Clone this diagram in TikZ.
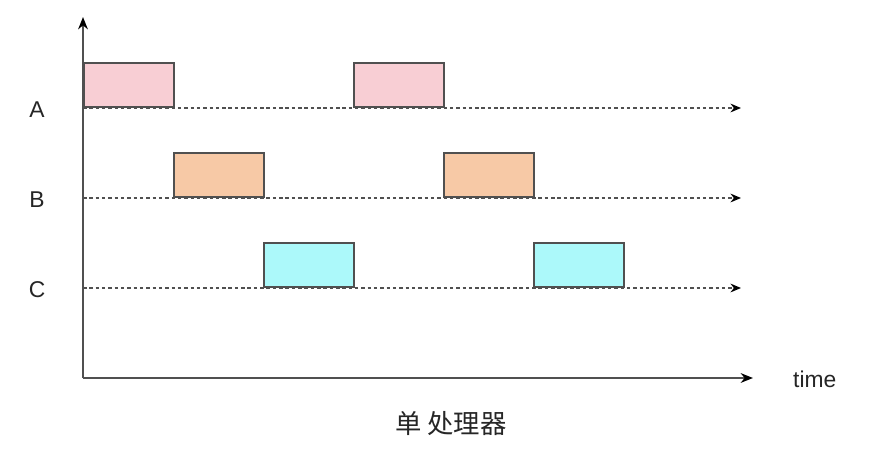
\documentclass[tikz,border=0pt]{standalone}
\usepackage{fontspec}
\setmainfont{Liberation Sans}
\newfontfamily\cjk{Noto Sans CJK SC}
\usetikzlibrary{arrows,arrows.meta,positioning}

\definecolor{slotA}{RGB}{248,206,212}
\definecolor{slotB}{RGB}{247,201,166}
\definecolor{slotC}{RGB}{172,249,250}
\definecolor{edgegray}{RGB}{80,80,80}

\tikzset{
	slot/.style={draw=edgegray,line width=1.1pt,minimum width=1.8cm,minimum height=0.88cm,inner sep=0pt,anchor=south west},
	lane/.style={-{Stealth[length=6pt,width=5pt,black]},dash pattern=on 2pt off 1.6pt,line width=0.75pt,draw=edgegray},
	axis/.style={-{Stealth[length=7pt,width=5.5pt,black]},line width=1.1pt,draw=edgegray},
	rowlabel/.style={font=\fontsize{13}{15}\selectfont,text=black!85}
}

\begin{document}
\begin{tikzpicture}[x=0.02cm,y=-0.02cm]
		\useasboundingbox[fill=white] (0,0) rectangle (882,456);
		% axes
		\coordinate (o) at (83,378);
		\coordinate (ytop) at (83,17);
		\coordinate (xend) at (753,378);
		\draw[axis] (o) -- (ytop);
		\draw[axis] (o) -- (xend);
		\node[rowlabel,anchor=west] (time) at (787,379) {time};
		% lanes
		\coordinate (a0) at (83,108);
		\coordinate (a1) at (741,108);
		\coordinate (b0) at (83,198);
		\coordinate (b1) at (741,198);
		\coordinate (c0) at (83,288);
		\coordinate (c1) at (741,288);
		\draw[lane] (a0) -- (a1);
		\draw[lane] (b0) -- (b1);
		\draw[lane] (c0) -- (c1);
		\node[rowlabel] (la) at (37,110) {A};
		\node[rowlabel] (lb) at (37,200) {B};
		\node[rowlabel] (lc) at (37,290) {C};
		% time slices
		\node[slot,fill=slotA] (sa1) at (83,108) {};
		\node[slot,fill=slotB] (sb1) at (173,198) {};
		\node[slot,fill=slotC] (sc1) at (263,288) {};
		\node[slot,fill=slotA] (sa2) at (353,108) {};
		\node[slot,fill=slotB] (sb2) at (443,198) {};
		\node[slot,fill=slotC] (sc2) at (533,288) {};
		% caption
		\node[font=\cjk\fontsize{15}{17}\selectfont,text=black!85] (cap) at (451,424) {单 处理器};
	\end{tikzpicture}
\end{document}
